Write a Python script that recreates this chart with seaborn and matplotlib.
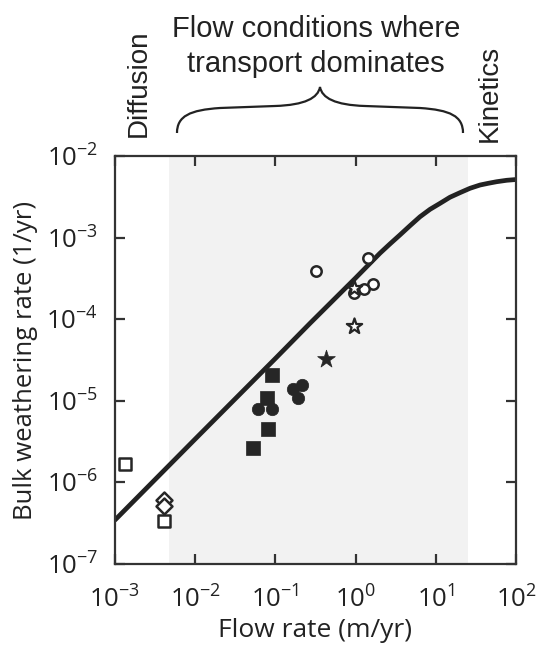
"""
Bulk weathering rate vs flow rate, log-log, with transport-dominated band.
"""

import matplotlib
matplotlib.use('Agg')
import matplotlib.pyplot as plt
from matplotlib.path import Path
from matplotlib.patches import PathPatch
import numpy as np
import pandas as pd
import seaborn as sn

# model curve
curve_q = [1e-3, 1e-2, 1e-1, 0.27, 1.0, 2.01, 2.68, 3.58, 4.77, 6.35, 8.47, 11.3, 15.0, 20.0,
           26.7, 35.6, 45.2, 57.4, 76.6, 100.0]
curve_r = [3.46e-7, 3.4e-6, 3.3e-5, 8.9e-5, 3.2e-4, 6.43e-4, 8.36e-4, 1.08e-3, 1.40e-3, 1.80e-3,
           2.22e-3, 2.63e-3, 3.12e-3, 3.55e-3, 4.02e-3, 4.41e-3, 4.63e-3, 4.84e-3, 5.04e-3, 5.15e-3]

# observations
open_circle_q = [0.32, 1.44, 1.66, 1.27, 0.955]
open_circle_r = [3.9e-4, 5.7e-4, 2.7e-4, 2.37e-4, 2.07e-4]
open_star_q = [0.955, 0.955]
open_star_r = [2.39e-4, 8.3e-5]
filled_star_q = [0.43]
filled_star_r = [3.25e-5]
filled_square_q = [0.092, 0.079, 0.080, 0.053]
filled_square_r = [2.1e-5, 1.07e-5, 4.5e-6, 2.66e-6]
filled_circle_q = [0.061, 0.092, 0.164, 0.217, 0.19]
filled_circle_r = [7.9e-6, 7.9e-6, 1.38e-5, 1.57e-5, 1.08e-5]
open_square_q = [0.00132, 0.0041]
open_square_r = [1.68e-6, 3.4e-7]
open_diamond_q = [0.0041, 0.0041]
open_diamond_r = [6.1e-7, 5.1e-7]

# transport-dominated flow band
shade_lo, shade_hi = 0.0047, 25.0

x_ticks = [1e-3, 1e-2, 1e-1, 1e0, 1e1, 1e2]
x_ticklabels = ['-3', '-2', '-1', '0', '1', '2']
y_ticks = [1e-7, 1e-6, 1e-5, 1e-4, 1e-3, 1e-2]
y_ticklabels = ['-7', '-6', '-5', '-4', '-3', '-2']

DARK = '#262626'
TXT = '#222222'
LIGHT_FONT = ['Liberation Sans', 'DejaVu Sans']

sn.set_style('ticks')
plt.rcParams['font.family'] = ['Open Sans', 'DejaVu Sans']
plt.rcParams['mathtext.fontset'] = 'custom'
plt.rcParams['mathtext.rm'] = 'Open Sans'

W, H = 537, 645
fig = plt.figure(figsize=(W / 100, H / 100), dpi=100)
ax = fig.add_axes([115 / W, 1 - 564 / H, (516 - 115) / W, (564 - 156) / H])

ax.axvspan(shade_lo, shade_hi, color='#f2f2f2', lw=0, zorder=0)

curve = pd.DataFrame({'q': curve_q, 'r': curve_r})
sn.lineplot(data=curve, x='q', y='r', ax=ax, color='#222222', lw=3.4,
            estimator=None, sort=False, zorder=2)

groups = [
    (open_circle_q, open_circle_r, 'o', 56, 'white', 1.8),
    (open_star_q, open_star_r, '*', 135, 'white', 1.6),
    (filled_star_q, filled_star_r, '*', 180, DARK, 0.5),
    (filled_square_q, filled_square_r, 's', 95, DARK, 0.5),
    (filled_circle_q, filled_circle_r, 'o', 80, DARK, 0.5),
    (open_square_q, open_square_r, 's', 72, 'white', 1.8),
    (open_diamond_q, open_diamond_r, 'D', 66, 'white', 1.8),
]
for q, r, m, s, fc, ew in groups:
    df = pd.DataFrame({'q': q, 'r': r})
    sn.scatterplot(data=df, x='q', y='r', ax=ax, marker=m, s=s, color=fc,
                   edgecolor=DARK, linewidth=ew, zorder=3)

ax.set_xscale('log')
ax.set_yscale('log')
ax.set_xlim(1e-3, 1e2)
ax.set_ylim(1e-7, 1e-2)
ax.set_xticks(x_ticks)
ax.set_xticklabels([r'$\mathregular{10^{%s}}$' % e for e in x_ticklabels])
ax.set_yticks(y_ticks)
ax.set_yticklabels([r'$\mathregular{10^{%s}}$' % e for e in y_ticklabels])
ax.minorticks_off()
ax.tick_params(which='major', direction='in', length=7, width=1.6, color='#333333',
               top=True, right=True, labelsize=18.5, labelcolor=TXT)
ax.tick_params(axis='x', pad=16)
ax.tick_params(axis='y', pad=12)
for sp in ax.spines.values():
    sp.set_linewidth(1.6)
    sp.set_color('#333333')

ax.set_xlabel('Flow rate (m/yr)', fontsize=19, color=TXT, labelpad=3)
ax.set_ylabel('Bulk weathering rate (1/yr)', fontsize=18.5, color=TXT, labelpad=6)

# annotations above the axes
fig.text(316 / W, 1 - 37 / H, 'Flow conditions where', ha='center', va='baseline',
         fontsize=21, color=TXT, family=LIGHT_FONT)
fig.text(316 / W, 1 - 72 / H, 'transport dominates', ha='center', va='baseline',
         fontsize=21, color=TXT, family=LIGHT_FONT)
fig.text(139 / W, 1 - 137 / H, 'Diffusion', rotation=90, ha='center', va='bottom',
         fontsize=20, color=TXT, family=LIGHT_FONT)
fig.text(490 / W, 1 - 142 / H, 'Kinetics', rotation=90, ha='center', va='bottom',
         fontsize=20, color=TXT, family=LIGHT_FONT)

# curly brace
pts = [(177, 133), (177, 116), (190, 110), (220, 108),
       (275, 106),
       (305, 105), (318, 98), (320, 87),
       (322, 98), (335, 105), (365, 106),
       (420, 108),
       (450, 110), (463, 116), (463, 133)]
codes = [Path.MOVETO, Path.CURVE4, Path.CURVE4, Path.CURVE4,
         Path.LINETO,
         Path.CURVE4, Path.CURVE4, Path.CURVE4,
         Path.CURVE4, Path.CURVE4, Path.CURVE4,
         Path.LINETO,
         Path.CURVE4, Path.CURVE4, Path.CURVE4]
verts = [(px / W, 1 - py / H) for px, py in pts]
fig.patches.append(PathPatch(Path(verts, codes), transform=fig.transFigure,
                             fill=False, lw=1.6, edgecolor=TXT))

fig.savefig('out.png', dpi=100)
